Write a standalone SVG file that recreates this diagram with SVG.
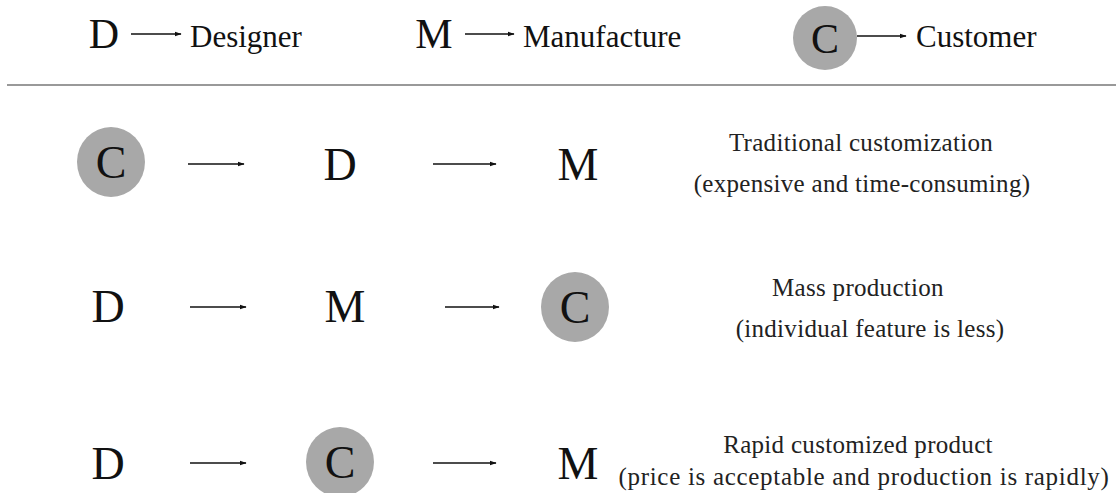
<svg xmlns="http://www.w3.org/2000/svg" width="1116" height="493" viewBox="0 0 1116 493">
<style>
text{font-family:"Liberation Serif","DejaVu Serif","Times New Roman",Times,serif}
.big{font-size:46px;fill:#111;text-anchor:middle}
.hd{font-size:42px;fill:#111;text-anchor:middle}
.lbl{font-size:31px;fill:#111}
.desc{font-size:25px;fill:#222;text-anchor:middle;letter-spacing:0.3px}
.circ{fill:#a8a8a8}
.ar{stroke:#111;stroke-width:1.3;fill:none;marker-end:url(#ah)}
</style>
<defs>
<marker id="ah" viewBox="0 0 10 10" refX="9" refY="5" markerWidth="7" markerHeight="7" markerUnits="userSpaceOnUse" orient="auto">
<path d="M0,1.5 L10,5 L0,8.5 Z" fill="#111"/>
</marker>
</defs>
<g id="legend">
<g id="leg-d"><text class="hd" x="104" y="48">D</text><text class="lbl" x="190" y="47">Designer</text></g>
<g id="leg-m"><text class="hd" x="434" y="48">M</text><text class="lbl" x="523" y="47">Manufacture</text></g>
<g id="leg-c"><circle class="circ" cx="825" cy="38" r="32"/><text class="hd" x="825" y="53">C</text><text class="lbl" x="916" y="47">Customer</text></g>
<line x1="7" y1="85" x2="1116" y2="85" stroke="#999" stroke-width="2"/>
</g>
<g id="row1">
<g id="r1-c"><ellipse class="circ" cx="111" cy="162" rx="34" ry="35"/><text class="big" x="111" y="178">C</text></g>
<g id="r1-d"><text class="big" x="340" y="180">D</text></g>
<g id="r1-m"><text class="big" x="578" y="180">M</text></g>
<g id="r1-txt"><text class="desc" x="861" y="151">Traditional customization</text><text class="desc" x="862" y="192">(expensive and time-consuming)</text></g>
</g>
<g id="row2">
<g id="r2-d"><text class="big" x="108" y="322">D</text></g>
<g id="r2-m"><text class="big" x="345" y="322">M</text></g>
<g id="r2-c"><ellipse class="circ" cx="575" cy="307" rx="34" ry="35"/><text class="big" x="575" y="323">C</text></g>
<g id="r2-txt"><text class="desc" x="858" y="296">Mass production</text><text class="desc" x="870" y="337">(individual feature is less)</text></g>
</g>
<g id="row3">
<g id="r3-d"><text class="big" x="108" y="479">D</text></g>
<g id="r3-c"><ellipse class="circ" cx="340" cy="462" rx="34" ry="35"/><text class="big" x="340" y="478">C</text></g>
<g id="r3-m"><text class="big" x="578" y="479">M</text></g>
<g id="r3-txt"><text class="desc" x="858" y="453">Rapid customized product</text><text class="desc" x="864" y="485" style="letter-spacing:0.7px">(price is acceptable and production is rapidly)</text></g>
</g>
<g id="connectors">
<line class="ar" x1="131" y1="34" x2="181" y2="34"/>
<line class="ar" x1="465" y1="34" x2="514" y2="34"/>
<line class="ar" x1="857" y1="36" x2="906" y2="36"/>
<line class="ar" x1="188" y1="164" x2="244" y2="164"/>
<line class="ar" x1="433" y1="164" x2="496" y2="164"/>
<line class="ar" x1="190" y1="307" x2="246" y2="307"/>
<line class="ar" x1="445" y1="307" x2="499" y2="307"/>
<line class="ar" x1="190" y1="463" x2="246" y2="463"/>
<line class="ar" x1="433" y1="463" x2="496" y2="463"/>
</g>
</svg>
